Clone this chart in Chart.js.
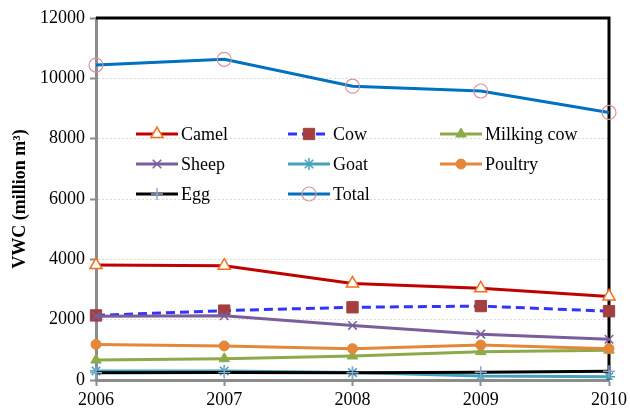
<!DOCTYPE html>
<html>
<head>
<meta charset="utf-8">
<title>VWC by livestock product, 2006–2010</title>
<script src="https://cdn.jsdelivr.net/npm/chart.js@4/dist/chart.umd.min.js"></script>
<style>
  html, body { margin: 0; padding: 0; background: #ffffff; }
  #wrap { width: 630px; height: 416px; }
</style>
</head>
<body>
<div id="wrap"><canvas id="vwc" width="630" height="416"></canvas></div>
<script>
// Years on the x axis
const years = ['2006', '2007', '2008', '2009', '2010'];

// Virtual water content, million m3
const camel      = [3810, 3790, 3200, 3040, 2770];
const cow        = [2140, 2300, 2410, 2450, 2280];
const milkingCow = [660, 705, 795, 940, 990];
const sheep      = [2110, 2130, 1810, 1520, 1350];
const goat       = [300, 300, 245, 130, 110];
const poultry    = [1180, 1130, 1040, 1160, 1040];
const egg        = [240, 250, 240, 260, 290];
const total      = [10440, 10630, 9740, 9580, 8870];

// Y axis ticks
const yTicks = [0, 2000, 4000, 6000, 8000, 10000, 12000];

const SERIF = "'Liberation Serif', 'Times New Roman', serif";

const seriesDefs = [
  { label: 'Camel', data: camel, line: '#C00000', dash: [], point: 'triangle', pFill: '#ffffff', pBorder: '#F07020', r: 7, pw: 1.5 },
  { label: 'Cow', data: cow, line: '#3333FF', dash: [9, 5], point: 'rect', pFill: '#A33F3F', pBorder: '#A33F3F', r: 8, pw: 1 },
  { label: 'Milking cow', data: milkingCow, line: '#8DAA4B', dash: [], point: 'triangle', pFill: '#8DAA4B', pBorder: '#8DAA4B', r: 6, pw: 1 },
  { label: 'Sheep', data: sheep, line: '#7A5E9C', dash: [], point: 'crossRot', pFill: '#7A5E9C', pBorder: '#7A5E9C', r: 6, pw: 1.5 },
  { label: 'Goat', data: goat, line: '#46A2BA', dash: [], point: 'star', pFill: '#46A2BA', pBorder: '#46A2BA', r: 6, pw: 1.5 },
  { label: 'Poultry', data: poultry, line: '#E3883A', dash: [], point: 'circle', pFill: '#E3883A', pBorder: '#E3883A', r: 5, pw: 1 },
  { label: 'Egg', data: egg, line: '#000000', dash: [], point: 'cross', pFill: '#8EA5D0', pBorder: '#8EA5D0', r: 6, pw: 1.5 },
  { label: 'Total', data: total, line: '#0070C0', dash: [], point: 'circle', pFill: 'rgba(0,0,0,0)', pBorder: '#D99594', r: 7, pw: 1.2 }
];

const datasets = seriesDefs.map((s, i) => ({
  label: s.label,
  data: s.data,
  borderColor: s.line,
  backgroundColor: s.line,
  borderWidth: 3,
  borderDash: s.dash,
  tension: 0,
  pointStyle: s.point,
  pointRadius: s.r,
  pointBackgroundColor: s.pFill,
  pointBorderColor: s.pBorder,
  pointBorderWidth: s.pw,
  order: -i
}));

// Black frame on the top and right of the plot area
const framePlugin = {
  id: 'frame',
  beforeDatasetsDraw(chart) {
    const { ctx, chartArea: a } = chart;
    ctx.save();
    ctx.strokeStyle = '#000000';
    ctx.lineWidth = 3;
    ctx.beginPath();
    ctx.moveTo(a.left, a.top);
    ctx.lineTo(a.right, a.top);
    ctx.lineTo(a.right, a.bottom);
    ctx.stroke();
    ctx.restore();
  }
};

// Three-column legend placed inside the plot area
const gridLegend = {
  id: 'gridLegend',
  afterDraw(chart) {
    const { ctx } = chart;
    const cols = [136, 288, 440];
    const rows = [134, 164, 194];
    const segLen = 42;
    const labelFont = Chart.helpers.toFont({ family: SERIF, size: 18 }).string;
    ctx.save();
    chart.data.datasets.forEach((ds, i) => {
      const x = cols[i % 3];
      const y = rows[Math.floor(i / 3)];
      ctx.strokeStyle = ds.borderColor;
      ctx.lineWidth = ds.borderWidth;
      ctx.setLineDash(ds.borderDash || []);
      ctx.beginPath();
      ctx.moveTo(x, y);
      ctx.lineTo(x + segLen, y);
      ctx.stroke();
      ctx.setLineDash([]);
      ctx.fillStyle = ds.pointBackgroundColor;
      ctx.strokeStyle = ds.pointBorderColor;
      ctx.lineWidth = ds.pointBorderWidth;
      Chart.helpers.drawPoint(ctx, {
        pointStyle: ds.pointStyle,
        radius: ds.pointRadius,
        rotation: 0,
        borderWidth: ds.pointBorderWidth
      }, x + segLen / 2, y);
      ctx.fillStyle = '#000000';
      ctx.font = labelFont;
      ctx.textAlign = 'left';
      ctx.textBaseline = 'middle';
      ctx.fillText(ds.label, x + segLen + 3, y + 1);
    });
    ctx.restore();
  }
};

new Chart(document.getElementById('vwc'), {
  type: 'line',
  data: { labels: years, datasets },
  options: {
    responsive: false,
    animation: false,
    layout: { padding: { top: 18, right: 19, left: 0, bottom: 0 } },
    plugins: {
      legend: { display: false },
      tooltip: { enabled: false }
    },
    scales: {
      x: {
        type: 'category',
        offset: false,
        border: { color: '#8C8C8C', width: 3 },
        grid: {
          drawOnChartArea: false,
          drawTicks: true,
          tickLength: 6,
          tickColor: '#8C8C8C',
          tickWidth: 2
        },
        ticks: {
          color: '#000000',
          font: { family: SERIF, size: 18 },
          padding: 3,
          maxRotation: 0,
          autoSkip: false
        },
        afterFit(axis) { axis.height = 36; }
      },
      y: {
        min: 0,
        max: 12000,
        border: { color: '#8C8C8C', width: 3, dash: [2, 2] },
        grid: {
          color: 'rgba(205,205,190,0.7)',
          lineWidth: 1,
          drawTicks: true,
          tickLength: 6,
          tickColor: '#8C8C8C',
          tickWidth: 2
        },
        afterBuildTicks(axis) { axis.ticks = yTicks.map(v => ({ value: v })); },
        ticks: {
          color: '#000000',
          font: { family: SERIF, size: 18 },
          padding: 5,
          callback: v => String(v)
        },
        title: {
          display: true,
          text: 'VWC (million m³)',
          color: '#000000',
          font: { family: SERIF, size: 18, weight: 'bold' },
          padding: { top: 10, bottom: 0 }
        },
        afterFit(axis) { axis.width = 96; }
      }
    }
  },
  plugins: [framePlugin, gridLegend]
});
</script>
</body>
</html>
